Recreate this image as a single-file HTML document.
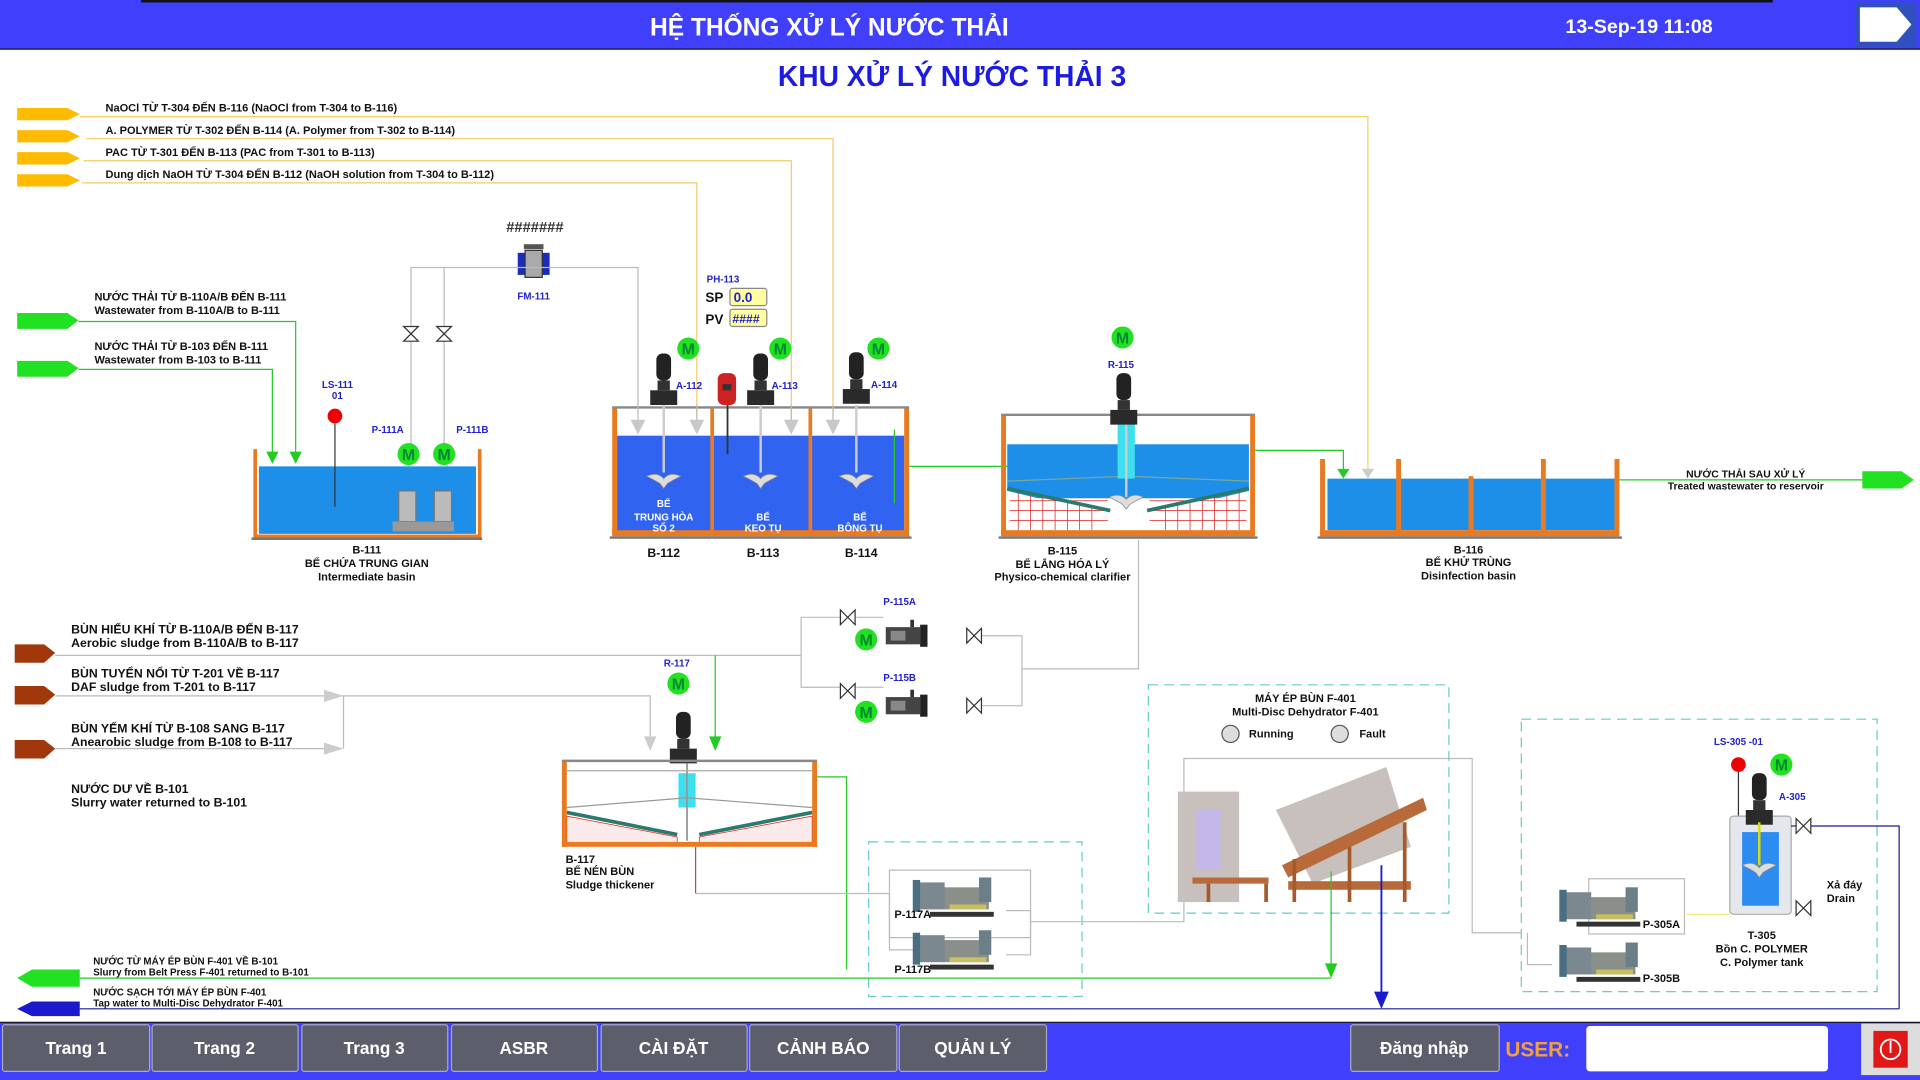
<!DOCTYPE html>
<html><head><meta charset="utf-8"><style>
html,body{margin:0;padding:0;background:#fff;width:1920px;height:1080px;overflow:hidden}
svg{display:block}
text{font-family:"Liberation Sans Narrow","Liberation Sans","DejaVu Sans",sans-serif;font-weight:bold}
</style></head><body>
<svg width="1920" height="1080" viewBox="0 0 1565 880" preserveAspectRatio="none" xmlns="http://www.w3.org/2000/svg">
<defs>
<g id="mot"><circle r="9" fill="#22e022"/><text y="5" text-anchor="middle" font-size="13" fill="#083">M</text></g>
<g id="mix"><rect x="-6" y="-30" width="12" height="22" rx="5" fill="#222"/><rect x="-5" y="-8" width="10" height="8" fill="#333"/><rect x="-11" y="0" width="22" height="12" fill="#2a2a2a"/></g>
<g id="imp"><path d="M-14,0 Q-5,-4 0,2 Q5,-4 14,0 Q6,4 3,6 L0,10 L-3,6 Q-6,4 -14,0Z" fill="#ddd" stroke="#888" stroke-width="0.6"/></g>
<g id="valve"><path d="M-6,-6 L6,6 L6,-6 L-6,6Z" fill="#fff" stroke="#333" stroke-width="1"/></g>
<g id="valveV"><path d="M-6,-6 L6,-6 L-6,6 L6,6Z" fill="#fff" stroke="#333" stroke-width="1"/></g>
<g id="pump"><rect x="0" y="0" width="28" height="14" fill="#444"/><rect x="4" y="3" width="12" height="8" fill="#888"/><rect x="28" y="-2" width="6" height="18" fill="#222"/><rect x="20" y="-6" width="3" height="6" fill="#333"/></g>
<g id="gpump"><rect x="0" y="6" width="38" height="18" fill="#8a8f8a"/><rect x="-20" y="2" width="22" height="22" fill="#7c8890"/><rect x="-24" y="0" width="6" height="26" fill="#4a6f80"/><rect x="30" y="-2" width="10" height="20" fill="#6a7f88"/><rect x="-10" y="26" width="52" height="4" fill="#333"/><rect x="6" y="20" width="30" height="4" fill="#c8c060"/></g>
</defs>

<!-- header -->
<rect x="0" y="0" width="1565" height="40" fill="#4040fc"/>
<line x1="115" y1="1" x2="1445" y2="1" stroke="#111" stroke-width="2"/>
<line x1="0" y1="40" x2="1565" y2="40" stroke="#111" stroke-width="1"/>
<text x="676" y="29" text-anchor="middle" font-size="20" fill="#fff">HỆ THỐNG XỬ LÝ NƯỚC THẢI</text>
<text x="1336" y="27" text-anchor="middle" font-size="16" fill="#fff">13-Sep-19 11:08</text>
<rect x="1512" y="2" width="50" height="36" fill="#3050c0"/>
<path d="M1516,6 L1546,6 L1558,20 L1546,34 L1516,34Z" fill="#fff"/>
<text x="776" y="70" text-anchor="middle" font-size="23" fill="#1c1ce0">KHU  XỬ LÝ NƯỚC THẢI 3</text>

<!-- chemical arrows -->
<g fill="#ffbb00">
<path d="M14,88 L55,88 L65,93 L55,98 L14,98Z"/>
<path d="M14,106 L55,106 L65,111 L55,116 L14,116Z"/>
<path d="M14,124 L55,124 L65,129 L55,134 L14,134Z"/>
<path d="M14,142 L55,142 L65,147 L55,152 L14,152Z"/>
</g>
<g stroke="#f2cc66" fill="none" stroke-width="1">
<polyline points="65,95 1115,95 1115,385"/>
<polyline points="70,113 679,113 679,348"/>
<polyline points="68,131 645,131 645,348"/>
<polyline points="67,149 568,149 568,348"/>
</g>
<g font-size="9" fill="#111">
<text x="86" y="91">NaOCl TỪ T-304 ĐẾN B-116 (NaOCl from T-304 to B-116)</text>
<text x="86" y="109">A. POLYMER TỪ T-302 ĐẾN B-114 (A. Polymer from T-302 to B-114)</text>
<text x="86" y="127">PAC TỪ T-301 ĐẾN B-113 (PAC from T-301 to B-113)</text>
<text x="86" y="145">Dung dịch NaOH TỪ T-304 ĐẾN B-112 (NaOH solution from T-304 to B-112)</text>
</g>

<!-- green inlets -->
<path d="M14,255 L55,255 L64,261 L55,268 L14,268Z" fill="#22e022"/>
<path d="M14,294 L55,294 L64,300 L55,307 L14,307Z" fill="#22e022"/>
<polyline points="64,262 241,262 241,372" stroke="#2c2" fill="none"/>
<polyline points="64,301 222,301 222,372" stroke="#2c2" fill="none"/>
<path d="M236,368 L246,368 L241,378Z M217,368 L227,368 L222,378Z" fill="#2c2"/>
<g font-size="9" fill="#111">
<text x="77" y="245">NƯỚC THẢI TỪ B-110A/B ĐẾN B-111</text>
<text x="77" y="256">Wastewater from B-110A/B to B-111</text>
<text x="77" y="285">NƯỚC THẢI TỪ B-103 ĐẾN B-111</text>
<text x="77" y="296">Wastewater from B-103 to B-111</text>
</g>

<!-- FM-111 -->
<text x="436" y="189" text-anchor="middle" font-size="12" fill="#333">#######</text>
<rect x="427" y="199" width="16" height="4" fill="#555"/>
<rect x="422" y="206" width="26" height="18" fill="#1a2cc0"/><rect x="428" y="204" width="14" height="22" fill="#aaa" stroke="#333" stroke-width="1"/>
<text x="435" y="244" text-anchor="middle" font-size="8" fill="#2222cc">FM-111</text>
<g stroke="#bbb" fill="none"><polyline points="335,370 335,218 520,218 520,330"/><line x1="362" y1="218" x2="362" y2="370"/></g>
<use href="#valveV" x="335" y="272"/><use href="#valveV" x="362" y="272"/>

<!-- B-111 -->
<rect x="211" y="380" width="177" height="55" fill="#1e8fe8"/>
<path d="M208,366 L208,437 L391,437 L391,366" fill="none" stroke="#e87a22" stroke-width="3"/>
<line x1="205" y1="439" x2="393" y2="439" stroke="#777" stroke-width="2"/>
<text x="275" y="316" text-anchor="middle" font-size="8" fill="#2222cc">LS-111</text>
<text x="275" y="325" text-anchor="middle" font-size="8" fill="#2222cc">01</text>
<circle cx="273" cy="339" r="6" fill="#e00"/><line x1="273" y1="345" x2="273" y2="413" stroke="#333"/>
<text x="316" y="353" text-anchor="middle" font-size="8" fill="#2222cc">P-111A</text>
<text x="385" y="353" text-anchor="middle" font-size="8" fill="#2222cc">P-111B</text>
<use href="#mot" x="333" y="370"/><use href="#mot" x="362" y="370"/>
<rect x="325" y="400" width="14" height="25" fill="#bbb" stroke="#777"/><rect x="354" y="400" width="14" height="25" fill="#bbb" stroke="#777"/>
<rect x="320" y="425" width="50" height="8" fill="#999"/>
<g font-size="9" fill="#111" text-anchor="middle"><text x="299" y="451">B-111</text><text x="299" y="462">BỂ CHỨA TRUNG GIAN</text><text x="299" y="473">Intermediate basin</text></g>

<!-- B-112/113/114 -->
<rect x="503" y="355" width="234" height="79" fill="#2f63f0"/>
<g fill="#e87a22"><rect x="499" y="332" width="4" height="104"/><rect x="737" y="332" width="4" height="104"/><rect x="579" y="332" width="3" height="104"/><rect x="659" y="332" width="3" height="104"/><rect x="499" y="432" width="242" height="5"/></g>
<line x1="499" y1="332" x2="741" y2="332" stroke="#888" stroke-width="2"/>
<line x1="497" y1="438" x2="743" y2="438" stroke="#777" stroke-width="2"/>
<g stroke="#bbb"><line x1="520" y1="330" x2="520" y2="346"/><line x1="568" y1="330" x2="568" y2="346"/><line x1="645" y1="330" x2="645" y2="346"/><line x1="679" y1="330" x2="679" y2="346"/></g>
<path d="M514,342 L526,342 L520,354Z M562,342 L574,342 L568,354Z M639,342 L651,342 L645,354Z M673,342 L685,342 L679,354Z" fill="#c8c8c8"/>
<g stroke="#ccc" stroke-width="2"><line x1="541" y1="330" x2="541" y2="385"/><line x1="620" y1="330" x2="620" y2="385"/><line x1="698" y1="330" x2="698" y2="385"/></g>
<use href="#mix" x="541" y="318"/><use href="#mix" x="620" y="318"/><use href="#mix" x="698" y="317"/>
<use href="#imp" x="541" y="388"/><use href="#imp" x="620" y="388"/><use href="#imp" x="698" y="388"/>
<use href="#mot" x="561" y="284"/><use href="#mot" x="636" y="284"/><use href="#mot" x="716" y="284"/>
<g font-size="8" fill="#2222cc"><text x="551" y="317">A-112</text><text x="629" y="317">A-113</text><text x="710" y="316">A-114</text><text x="576" y="230">PH-113</text></g>
<rect x="585" y="304" width="15" height="26" rx="5" fill="#c22"/><rect x="589" y="313" width="7" height="5" fill="#333"/>
<line x1="593" y1="330" x2="593" y2="370" stroke="#333" stroke-width="1.5"/>
<text x="575" y="246" font-size="11" fill="#111">SP</text><text x="575" y="264" font-size="11" fill="#111">PV</text>
<rect x="595" y="235" width="30" height="14" rx="2" fill="#ffffa0" stroke="#888"/><text x="598" y="246" font-size="11" fill="#2222cc" font-weight="normal">0.0</text>
<rect x="595" y="252" width="30" height="14" rx="2" fill="#ffffa0" stroke="#888"/><text x="597" y="263" font-size="10" fill="#2222cc">####</text>
<g font-size="8" fill="#fff" text-anchor="middle"><text x="541" y="413">BỂ</text><text x="541" y="424">TRUNG HÒA</text><text x="541" y="433">SỐ 2</text><text x="622" y="424">BỂ</text><text x="622" y="433">KEO TỤ</text><text x="701" y="424">BỂ</text><text x="701" y="433">BÔNG TỤ</text></g>
<g font-size="10" fill="#111" text-anchor="middle"><text x="541" y="454">B-112</text><text x="622" y="454">B-113</text><text x="702" y="454">B-114</text></g>
<line x1="729" y1="350" x2="729" y2="410" stroke="#2c2"/>
<line x1="741" y1="380" x2="900" y2="380" stroke="#2c2"/><path d="M895,375 L908,380 L895,385Z" fill="#2c2"/>

<!-- B-115 -->
<rect x="821" y="362" width="197" height="44" fill="#1e8fe8"/>
<path d="M821,400 L905,420 L905,430 L821,430Z M1018,400 L935,420 L935,430 L1018,430Z" fill="#fff"/>
<g stroke="#d22" stroke-width="0.6"><path d="M823,408 H903 M823,416 H903 M823,424 H903 M937,408 H1016 M937,416 H1016 M937,424 H1016 M830,400 V432 M840,402 V432 M850,404 V432 M860,406 V432 M870,408 V432 M880,410 V432 M890,412 V432 M950,412 V432 M960,410 V432 M970,408 V432 M980,406 V432 M990,404 V432 M1000,402 V432 M1010,400 V432"/></g>
<path d="M821,398 L905,416 M1018,398 L935,416" stroke="#2a7a70" stroke-width="3"/>
<path d="M821,392 L918,388 L1018,392" stroke="#7a9" fill="none"/>
<g fill="#e87a22"><rect x="816" y="338" width="4" height="98"/><rect x="1019" y="338" width="4" height="98"/><rect x="816" y="432" width="207" height="5"/></g>
<line x1="816" y1="338" x2="1023" y2="338" stroke="#888" stroke-width="2"/><line x1="814" y1="438" x2="1025" y2="438" stroke="#777" stroke-width="2"/>
<rect x="911" y="340" width="14" height="50" fill="#3ee0f0"/>
<line x1="918" y1="330" x2="918" y2="405" stroke="#ccc" stroke-width="2"/>
<use href="#mix" x="916" y="334"/><use href="#imp" x="918" y="405"/>
<use href="#mot" x="915" y="275"/><text x="903" y="300" font-size="8" fill="#2222cc">R-115</text>
<g font-size="9" fill="#111" text-anchor="middle"><text x="866" y="452">B-115</text><text x="866" y="463">BỂ LẮNG HÓA LÝ</text><text x="866" y="473">Physico-chemical clarifier</text></g>
<polyline points="1023,367 1095,367 1095,385" stroke="#2c2" fill="none"/><path d="M1090,382 L1100,382 L1095,390Z" fill="#2c2"/>
<path d="M1110,382 L1120,382 L1115,390Z" fill="#ccc"/>
<polyline points="928,440 928,545 833,545" stroke="#bbb" fill="none"/>

<!-- B-116 -->
<rect x="1082" y="390" width="234" height="42" fill="#1e8fe8"/>
<g fill="#e87a22"><rect x="1076" y="374" width="4" height="62"/><rect x="1316" y="374" width="4" height="62"/><rect x="1138" y="374" width="4" height="60"/><rect x="1197" y="388" width="4" height="46"/><rect x="1256" y="374" width="4" height="60"/><rect x="1076" y="432" width="244" height="5"/></g>
<line x1="1074" y1="438" x2="1322" y2="438" stroke="#777" stroke-width="2"/>
<g font-size="9" fill="#111" text-anchor="middle"><text x="1197" y="451">B-116</text><text x="1197" y="461">BỂ KHỬ TRÙNG</text><text x="1197" y="472">Disinfection basin</text></g>
<line x1="1320" y1="391" x2="1520" y2="391" stroke="#2c2"/>
<path d="M1518,384 L1550,384 L1560,391 L1550,398 L1518,398Z" fill="#22e022"/>
<g font-size="8.5" fill="#111" text-anchor="middle"><text x="1423" y="389">NƯỚC THẢI SAU XỬ LÝ</text><text x="1423" y="399">Treated wastewater to reservoir</text></g>

<!-- sludge inlets -->
<g fill="#a0380c"><path d="M12,525 L36,525 L45,532 L36,540 L12,540Z"/><path d="M12,559 L36,559 L45,566 L36,574 L12,574Z"/><path d="M12,603 L36,603 L45,610 L36,618 L12,618Z"/></g>
<g font-size="10" fill="#111">
<text x="58" y="516">BÙN HIẾU KHÍ TỪ B-110A/B ĐẾN B-117</text><text x="58" y="527">Aerobic sludge from B-110A/B to B-117</text>
<text x="58" y="552">BÙN TUYỂN NỔI TỪ T-201 VỀ B-117</text><text x="58" y="563">DAF sludge from T-201 to B-117</text>
<text x="58" y="597">BÙN YẾM KHÍ TỪ B-108 SANG B-117</text><text x="58" y="608">Anearobic sludge from B-108 to B-117</text>
<text x="58" y="646">NƯỚC DƯ VỀ B-101</text><text x="58" y="657">Slurry water returned to B-101</text>
</g>
<g stroke="#bbb" fill="none">
<polyline points="45,534 653,534"/>
<polyline points="45,567 530,567 530,600"/>
<polyline points="45,610 270,610"/>
<polyline points="280,567 280,610"/>
<polyline points="653,503 653,560 685,560"/><line x1="653" y1="503" x2="685" y2="503"/>
<polyline points="800,518 833,518 833,575 800,575"/>
<line x1="698" y1="503" x2="720" y2="503"/><line x1="698" y1="560" x2="720" y2="560"/>
</g>
<line x1="583" y1="534" x2="583" y2="603" stroke="#2c2"/>
<path d="M264,562 L280,567 L264,572Z M264,605 L280,610 L264,615Z" fill="#ccc"/>
<path d="M525,600 L535,600 L530,612Z" fill="#ccc"/><path d="M578,600 L588,600 L583,612Z" fill="#2c2"/>
<use href="#valve" x="691" y="503"/><use href="#valve" x="691" y="563"/><use href="#valve" x="794" y="518"/><use href="#valve" x="794" y="575"/>
<use href="#pump" x="722" y="511"/><use href="#pump" x="722" y="568"/>
<use href="#mot" x="706" y="521"/><use href="#mot" x="706" y="580"/>
<g font-size="8" fill="#2222cc"><text x="720" y="493">P-115A</text><text x="720" y="555">P-115B</text><text x="541" y="543">R-117</text></g>

<!-- B-117 -->
<use href="#mot" x="553" y="557"/>
<use href="#mix" x="557" y="610"/>
<rect x="553" y="630" width="14" height="28" fill="#3ee0f0"/>
<line x1="560" y1="622" x2="560" y2="685" stroke="#999" stroke-width="1.5"/>
<path d="M462,665 L552,682 L552,688 L462,688Z M662,665 L570,682 L570,688 L662,688Z" fill="#fbeaea" stroke="#d22" stroke-width="0.6"/>
<path d="M462,662 L552,680 M662,662 L570,680" stroke="#2a7a70" stroke-width="3"/>
<path d="M462,658 L560,650 L662,658" stroke="#999" fill="none"/>
<g fill="#e87a22"><rect x="458" y="620" width="4" height="70"/><rect x="662" y="620" width="4" height="70"/><rect x="458" y="686" width="208" height="4"/></g>
<line x1="458" y1="620" x2="666" y2="620" stroke="#888" stroke-width="2"/><line x1="462" y1="628" x2="662" y2="628" stroke="#aaa"/>
<g font-size="9" fill="#111"><text x="461" y="703">B-117</text><text x="461" y="713">BỂ NÉN BÙN</text><text x="461" y="724">Sludge thickener</text></g>
<polyline points="666,633 690,633 690,790" stroke="#2c2" fill="none"/>
<line x1="567" y1="690" x2="567" y2="728" stroke="#a55"/>
<polyline points="567,728 725,728" stroke="#bbb" fill="none"/>

<!-- pump box P-117 -->
<rect x="708" y="686" width="174" height="126" fill="none" stroke="#6cc" stroke-dasharray="8,5"/>
<g stroke="#bbb" fill="none"><polyline points="725,728 725,774 745,774"/><rect x="725" y="709" width="115" height="55"/><polyline points="820,742 840,742 840,778 820,778"/><polyline points="840,751 965,751 965,618 1200,618 1200,760 1240,760"/></g>
<use href="#gpump" x="768" y="717"/><use href="#gpump" x="768" y="760"/>
<text x="729" y="748" font-size="9" fill="#111">P-117A</text><text x="729" y="793" font-size="9" fill="#111">P-117B</text>

<!-- F-401 -->
<rect x="936" y="558" width="245" height="186" fill="none" stroke="#6cc" stroke-dasharray="8,5"/>
<g font-size="9" fill="#111" text-anchor="middle"><text x="1064" y="572">MÁY ÉP BÙN F-401</text><text x="1064" y="583">Multi-Disc Dehydrator F-401</text></g>
<circle cx="1003" cy="598" r="7" fill="#ddd" stroke="#555"/><text x="1018" y="601" font-size="9" fill="#111">Running</text>
<circle cx="1092" cy="598" r="7" fill="#ddd" stroke="#555"/><text x="1108" y="601" font-size="9" fill="#111">Fault</text>
<rect x="960" y="645" width="50" height="90" fill="#c8c0bc"/><rect x="975" y="660" width="20" height="48" fill="#c4b8e8"/>
<path d="M985,720 L985,735 M1032,720 L1032,735" stroke="#a45a2a" stroke-width="3"/><rect x="972" y="715" width="62" height="5" fill="#b86a3a"/>
<path d="M1040,660 L1130,625 L1150,690 L1070,720Z" fill="#c8c0bc"/>
<path d="M1045,705 L1160,650 L1163,660 L1050,715Z" fill="#b86a3a"/>
<rect x="1050" y="718" width="100" height="7" fill="#b86a3a"/><path d="M1055,700 V735 M1100,690 V735 M1145,670 V735" stroke="#a45a2a" stroke-width="3"/>
<line x1="1085" y1="710" x2="1085" y2="790" stroke="#2c2"/><path d="M1080,785 L1090,785 L1085,797Z" fill="#2c2"/>
<line x1="1126" y1="705" x2="1126" y2="810" stroke="#1a1acc" stroke-width="1.5"/><path d="M1120,808 L1132,808 L1126,822Z" fill="#1a1acc"/>

<!-- T-305 box -->
<rect x="1240" y="586" width="290" height="222" fill="none" stroke="#6cc" stroke-dasharray="8,5"/>
<text x="1417" y="607" text-anchor="middle" font-size="8" fill="#2222cc">LS-305 -01</text>
<circle cx="1417" cy="623" r="6" fill="#e00"/><line x1="1417" y1="629" x2="1417" y2="665" stroke="#333"/>
<use href="#mot" x="1452" y="623"/><text x="1450" y="652" font-size="8" fill="#2222cc">A-305</text>
<rect x="1410" y="665" width="50" height="80" rx="3" fill="#e4e8ec" stroke="#aaa"/>
<rect x="1420" y="678" width="30" height="60" fill="#2d8cf0"/>
<use href="#mix" x="1434" y="660"/><line x1="1434" y1="670" x2="1434" y2="705" stroke="#dd0" stroke-width="2"/><use href="#imp" x="1434" y="705"/>
<polyline points="1460,673 1548,673 1548,822" stroke="#1a1a99" fill="none"/>
<use href="#valve" x="1470" y="673"/><use href="#valve" x="1470" y="740"/>
<g font-size="9" fill="#111"><text x="1489" y="724">Xả đáy</text><text x="1489" y="735">Drain</text></g>
<g font-size="9" fill="#111" text-anchor="middle"><text x="1436" y="765">T-305</text><text x="1436" y="776">Bồn C. POLYMER</text><text x="1436" y="787">C. Polymer tank</text></g>
<g stroke="#bbb" fill="none"><polyline points="1245,760 1245,786 1265,786"/><rect x="1295" y="716" width="78" height="45"/></g>
<line x1="1375" y1="745" x2="1410" y2="745" stroke="#ee6"/>
<use href="#gpump" x="1295" y="725"/><use href="#gpump" x="1295" y="770"/>
<g font-size="9" fill="#111"><text x="1339" y="756">P-305A</text><text x="1339" y="800">P-305B</text></g>

<!-- bottom lines -->
<path d="M14,797 L26,790 L65,790 L65,804 L26,804Z" fill="#22e022"/>
<line x1="65" y1="797" x2="1085" y2="797" stroke="#2c2"/>
<path d="M14,822 L26,816 L65,816 L65,828 L26,828Z" fill="#1a1acc"/>
<line x1="65" y1="822" x2="1548" y2="822" stroke="#1a1a99"/>
<g font-size="8" fill="#111"><text x="76" y="786">NƯỚC TỪ MÁY ÉP BÙN F-401 VỀ B-101</text><text x="76" y="795">Slurry from Belt Press F-401 returned to B-101</text><text x="76" y="811">NƯỚC SẠCH TỚI MÁY ÉP BÙN F-401</text><text x="76" y="820">Tap water to Multi-Disc Dehydrator F-401</text></g>

<!-- nav -->
<rect x="0" y="833" width="1565" height="47" fill="#4040fc"/>
<line x1="0" y1="833" x2="1565" y2="833" stroke="#111"/>
<g fill="#5c5e6c" stroke="#aab" stroke-width="1">
<rect x="2" y="835" width="120" height="38" rx="2"/><rect x="124" y="835" width="119" height="38" rx="2"/><rect x="246" y="835" width="119" height="38" rx="2"/><rect x="368" y="835" width="119" height="38" rx="2"/><rect x="490" y="835" width="119" height="38" rx="2"/><rect x="611" y="835" width="120" height="38" rx="2"/><rect x="733" y="835" width="120" height="38" rx="2"/><rect x="1101" y="835" width="121" height="38" rx="2"/>
</g>
<g font-size="14" fill="#fff" text-anchor="middle">
<text x="62" y="859">Trang 1</text><text x="183" y="859">Trang 2</text><text x="305" y="859">Trang 3</text><text x="427" y="859">ASBR</text><text x="549" y="859">CÀI ĐẶT</text><text x="671" y="859">CẢNH BÁO</text><text x="793" y="859">QUẢN LÝ</text><text x="1161" y="859">Đăng nhập</text>
</g>
<text x="1227" y="861" font-size="17" fill="#f0a040">USER:</text>
<rect x="1293" y="836" width="197" height="37" rx="3" fill="#fff"/>
<rect x="1517" y="834" width="48" height="42" fill="#ddd"/>
<rect x="1527" y="840" width="28" height="30" fill="#e01818"/>
<circle cx="1541" cy="855" r="8" fill="none" stroke="#fff" stroke-width="1.5"/><line x1="1541" y1="848" x2="1541" y2="858" stroke="#fff" stroke-width="1.5"/>
</svg>
</body></html>
